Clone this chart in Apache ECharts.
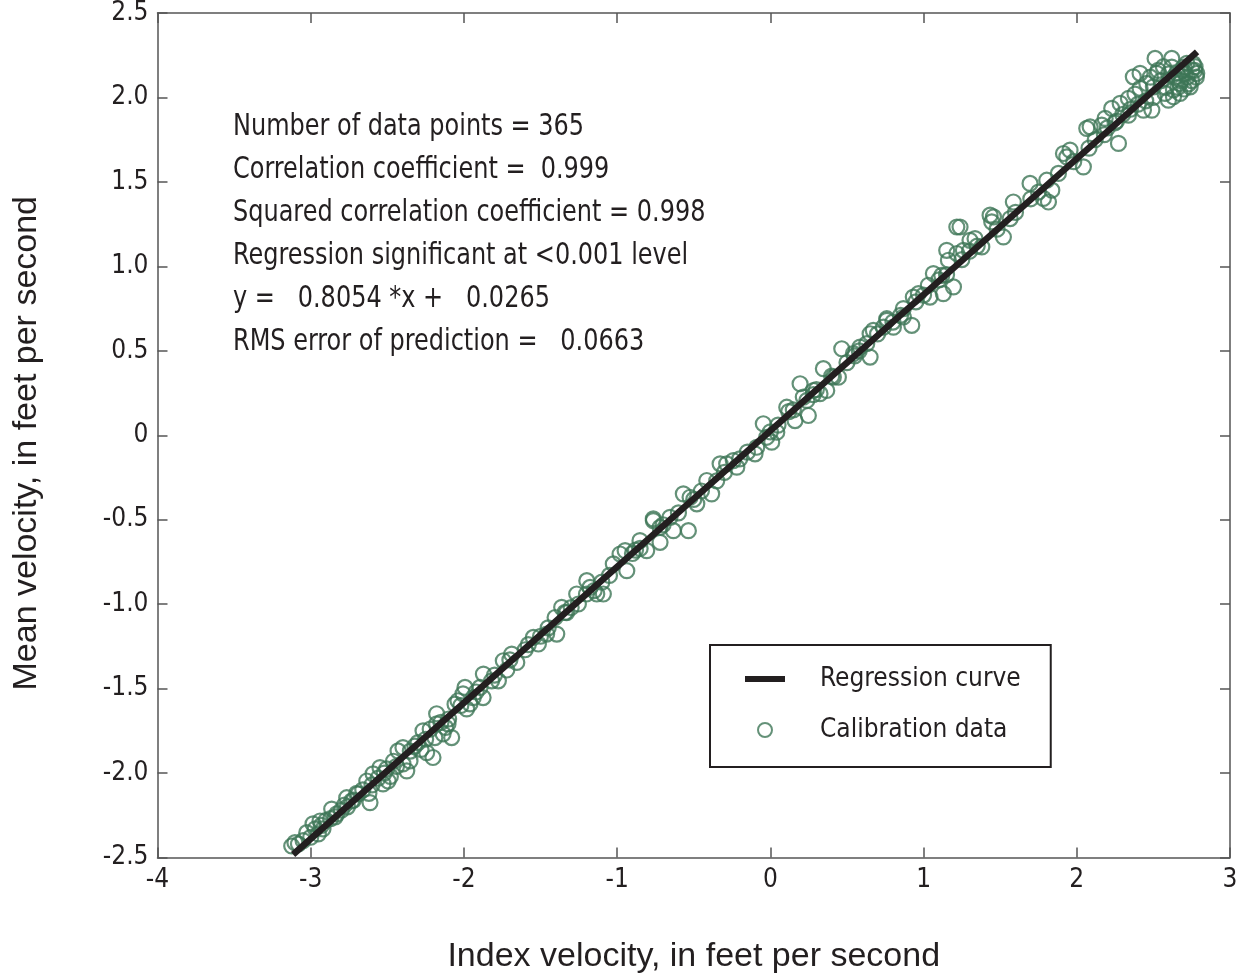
<!DOCTYPE html>
<html>
<head>
<meta charset="utf-8">
<script src="https://cdn.jsdelivr.net/npm/echarts@6/dist/echarts.min.js"></script>
<style>
html,body{margin:0;padding:0;background:#fff;}
#chart{width:1241px;height:980px;}
</style>
</head>
<body>
<div id="chart"></div>
<script>
// ---- Data ----
var calX = [
 -3.124,-3.103,-3.026,-2.985,-2.939,-2.920,-2.863,-2.830,-2.765,-2.732,-2.691,-2.634,-2.613,-2.593,-2.548,-2.528,-2.504,-2.495,-2.430,-2.398,
 -2.398,-2.352,-2.373,-2.267,-2.243,-2.202,-2.178,-2.178,-2.136,-2.080,-2.104,-2.039,-2.006,-1.982,-1.960,-1.895,-1.875,
 -2.058,-1.993,-1.939,-1.873,-1.819,-1.775,-1.743,-1.688,-1.655,-1.547,-1.514,-1.460,-1.394,-1.405,-1.362,-1.340,-1.264,-1.253,-1.198,-1.177,
 -1.133,-1.090,-1.025,-0.981,-0.937,-0.948,-0.851,-0.807,-0.764,-0.720,-0.720,-0.633,-0.535,-0.568,
 -0.764,-0.655,-0.524,-0.480,-0.415,-0.383,-0.328,-0.285,-0.242,-0.219,-0.089,-0.100,-0.046,-0.024,0.009,0.042,0.107,0.161,0.194,0.215,
 0.238,0.248,0.281,0.324,0.368,0.346,0.411,0.444,0.466,0.542,0.585,0.651,0.651,0.672,0.738,0.760,
 0.629,0.760,0.803,0.868,0.868,0.923,0.933,0.966,1.031,1.042,1.064,1.119,1.129,1.195,1.151,1.162,1.217,1.260,1.217,1.238,
 1.303,1.336,1.380,1.434,1.445,1.456,1.521,1.565,1.586,1.695,1.782,1.815,1.804,1.837,
 1.913,1.935,1.956,2.043,2.065,2.087,2.163,2.185,2.272,2.228,2.283,2.337,2.337,2.369,2.413,2.413,2.435,2.490,2.457,2.511,
 2.522,2.500,2.565,2.576,2.620,2.631,2.674,2.653,2.707,2.718,2.740,2.751,2.772,2.783,2.674,2.631,2.598,
 -3.08,-3.05,-2.97,-2.95,-2.90,-2.87,-2.80,-2.78,-2.72,-2.66,-2.60,-2.56,-2.46,-2.44,-2.32,-2.30,-2.25,-2.22,-2.15,-2.10,
 2.55,2.60,2.62,2.68,2.70,2.72,2.75,2.76,2.78,2.66,2.58,2.50,2.45,2.40,2.35,2.30,2.25,2.20,2.12,
 -1.70,-1.60,-1.50,-1.30,-1.20,-1.10,-0.90,-0.85,-0.60,-0.45,-0.30,-0.15,0.05,0.15,0.30,0.50,0.55,0.80,0.95,1.10,
 1.25,1.35,1.60,1.75,1.88,
 -3.00,-2.93,-2.84,-2.76,-2.70,-2.62,-2.52,-2.48,-2.35,-2.28,-2.19,-2.12,-2.02,-1.92,-1.80,-1.72,-1.58,-1.45,-1.33,-1.15,
 -1.05,-0.88,-0.70,-0.50,-0.35,-0.20,0.00,0.12,0.28,0.40,0.58,0.70,0.85,1.00,1.15,1.30,1.48,1.70,1.98,2.08,
 2.18,2.26,2.38,2.48,2.53,2.64,2.69,2.73,2.77,2.70
];
var calY = [
 -2.432,-2.412,-2.353,-2.301,-2.284,-2.331,-2.213,-2.242,-2.146,-2.165,-2.124,-2.047,-2.175,-2.005,-1.968,-2.064,-1.975,-2.047,-1.869,-1.849,
 -1.946,-1.928,-1.987,-1.750,-1.879,-1.908,-1.709,-1.649,-1.768,-1.790,-1.709,-1.572,-1.531,-1.620,-1.590,-1.493,-1.553,
 -1.592,-1.493,-1.553,-1.414,-1.454,-1.454,-1.335,-1.296,-1.345,-1.197,-1.236,-1.177,-1.177,-1.079,-1.019,-1.049,-0.940,-0.999,-0.861,-0.901,
 -0.940,-0.940,-0.762,-0.703,-0.802,-0.683,-0.624,-0.683,-0.505,-0.545,-0.634,-0.565,-0.565,-0.347,
 -0.495,-0.486,-0.367,-0.406,-0.268,-0.347,-0.169,-0.169,-0.150,-0.189,-0.071,-0.110,0.068,-0.012,-0.041,0.018,0.166,0.087,0.305,0.226,
 0.206,0.117,0.265,0.246,0.265,0.394,0.344,0.344,0.512,0.483,0.522,0.463,0.601,0.621,0.640,0.690,
 0.542,0.680,0.640,0.700,0.750,0.651,0.818,0.838,0.888,0.818,0.957,0.947,0.838,0.878,1.095,1.036,1.076,1.095,1.233,1.233,
 1.154,1.164,1.115,1.303,1.263,1.293,1.174,1.283,1.381,1.491,1.402,1.381,1.510,1.451,
 1.668,1.648,1.688,1.589,1.817,1.826,1.836,1.876,1.728,1.935,1.965,1.895,1.994,2.122,2.143,2.054,1.925,1.925,2.083,2.231,
 2.143,2.063,2.182,2.024,2.231,2.044,2.083,2.143,2.143,2.202,2.063,2.162,2.182,2.143,2.024,2.004,1.984,
 -2.42,-2.40,-2.33,-2.36,-2.28,-2.27,-2.22,-2.19,-2.16,-2.10,-2.07,-2.03,-1.93,-1.96,-1.84,-1.82,-1.80,-1.74,-1.70,-1.68,
 2.10,2.14,2.18,2.10,2.18,2.12,2.10,2.20,2.12,2.06,2.06,2.00,1.98,1.96,1.93,1.90,1.85,1.82,1.75,
 -1.33,-1.27,-1.19,-1.02,-0.94,-0.87,-0.70,-0.67,-0.46,-0.33,-0.22,-0.10,0.06,0.15,0.27,0.43,0.47,0.67,0.79,0.92,
 1.04,1.12,1.32,1.44,1.55,
 -2.38,-2.31,-2.26,-2.20,-2.12,-2.12,-2.00,-2.02,-1.87,-1.86,-1.79,-1.73,-1.60,-1.52,-1.42,-1.39,-1.24,-1.14,-1.05,-0.92,
 -0.83,-0.68,-0.53,-0.38,-0.27,-0.14,0.02,0.14,0.24,0.35,0.50,0.60,0.71,0.83,0.95,1.09,1.22,1.40,1.62,1.70,
 1.78,1.86,2.02,2.12,2.16,2.12,2.16,2.08,2.16,2.05
];
var regSlope = 0.8054;
var regIntercept = 0.0265;
var regXRange = [-3.115, 2.785];
var xTickLabels = ['-4','-3','-2','-1','0','1','2','3'];
var yTickLabels = ['-2.5','-2.0','-1.5','-1.0','-0.5','0','0.5','1.0','1.5','2.0','2.5'];
var statLines = [
 'Number of data points = 365',
 'Correlation coefficient =  0.999',
 'Squared correlation coefficient = 0.998',
 'Regression significant at <0.001 level',
 'y =   0.8054 *x +   0.0265',
 'RMS error of prediction =   0.0663'
];

// ---- Build ----
var calData = calX.map(function(x, i){ return [x, calY[i]]; });
var regData = regXRange.map(function(x){ return [x, regSlope * x + regIntercept]; });

var NARROW = '"Liberation Sans Narrow","DejaVu Sans Condensed","Roboto",sans-serif';
var REG = '"Liberation Sans","Arial",sans-serif';
var TXT = '#231f20';
var AX = '#555555';
var GREEN = '#3d7556';

function axisCommon(extra){
  var base = {
    type:'value',
    axisLine:{show:true, onZero:false, lineStyle:{color:AX, width:1.5}},
    axisTick:{show:true, inside:true, length:10, lineStyle:{color:AX, width:1.5}},
    splitLine:{show:false}
  };
  for (var k in extra) base[k] = extra[k];
  return base;
}

var chart = echarts.init(document.getElementById('chart'), null, {renderer:'canvas'});
var option = {
  animation:false,
  backgroundColor:'#ffffff',
  grid:{left:157.5, right:11, top:13, bottom:122.5, containLabel:false, outerBoundsMode:'none'},
  xAxis:[
    axisCommon({min:-4, max:3, interval:1, position:'bottom',
      axisLabel:{fontSize:26, color:TXT, fontFamily:NARROW, margin:10,
        formatter:function(v){ return xTickLabels[Math.round(v + 4)]; }},
      name:'Index velocity, in feet per second', nameLocation:'middle', nameGap:82,
      nameTextStyle:{fontSize:34, fontFamily:REG, color:TXT}}),
    axisCommon({min:-4, max:3, interval:1, position:'top', axisLabel:{show:false}})
  ],
  yAxis:[
    axisCommon({min:-2.5, max:2.5, interval:0.5, position:'left',
      axisLabel:{fontSize:26, color:TXT, fontFamily:NARROW, margin:9,
        formatter:function(v){ return yTickLabels[Math.round((v + 2.5) * 2)]; }},
      name:'Mean velocity, in feet per second', nameLocation:'middle', nameGap:114,
      nameTextStyle:{fontSize:34, fontFamily:REG, color:TXT, padding:[0,16,0,0]}}),
    axisCommon({min:-2.5, max:2.5, interval:0.5, position:'right', axisLabel:{show:false}})
  ],
  legend:{
    left:710, top:645, orient:'vertical',
    data:[
      {name:'Regression curve', icon:'path://M0,0L0,0M40,14L40,14M0,4L40,4L40,10L0,10Z', itemStyle:{color:TXT, borderWidth:0}},
      {name:'Calibration data', icon:'circle', itemStyle:{color:'rgba(0,0,0,0)', borderColor:GREEN, borderWidth:2}}
    ],
    itemWidth:40, itemHeight:14, itemGap:25,
    padding:[21,30,24,35],
    borderColor:TXT, borderWidth:2, backgroundColor:'#ffffff',
    textStyle:{fontSize:26, fontFamily:NARROW, color:TXT, padding:[0,0,0,30]}
  },
  graphic:[{
    type:'text', left:233, top:105, z:100, scaleX:0.86,
    style:{text:statLines.join('\n'), font:'31px ' + NARROW, fill:TXT, lineHeight:43}
  }],
  series:[
    {
      name:'Calibration data', type:'scatter', data:calData,
      symbol:'circle', symbolSize:15,
      itemStyle:{color:'rgba(0,0,0,0)', borderColor:GREEN, borderWidth:2.2},
      z:2
    },
    {
      name:'Regression curve', type:'line', data:regData,
      symbol:'none', showSymbol:false,
      lineStyle:{color:TXT, width:6.5},
      itemStyle:{color:TXT},
      z:3
    }
  ]
};
chart.setOption(option);
</script>
</body>
</html>
